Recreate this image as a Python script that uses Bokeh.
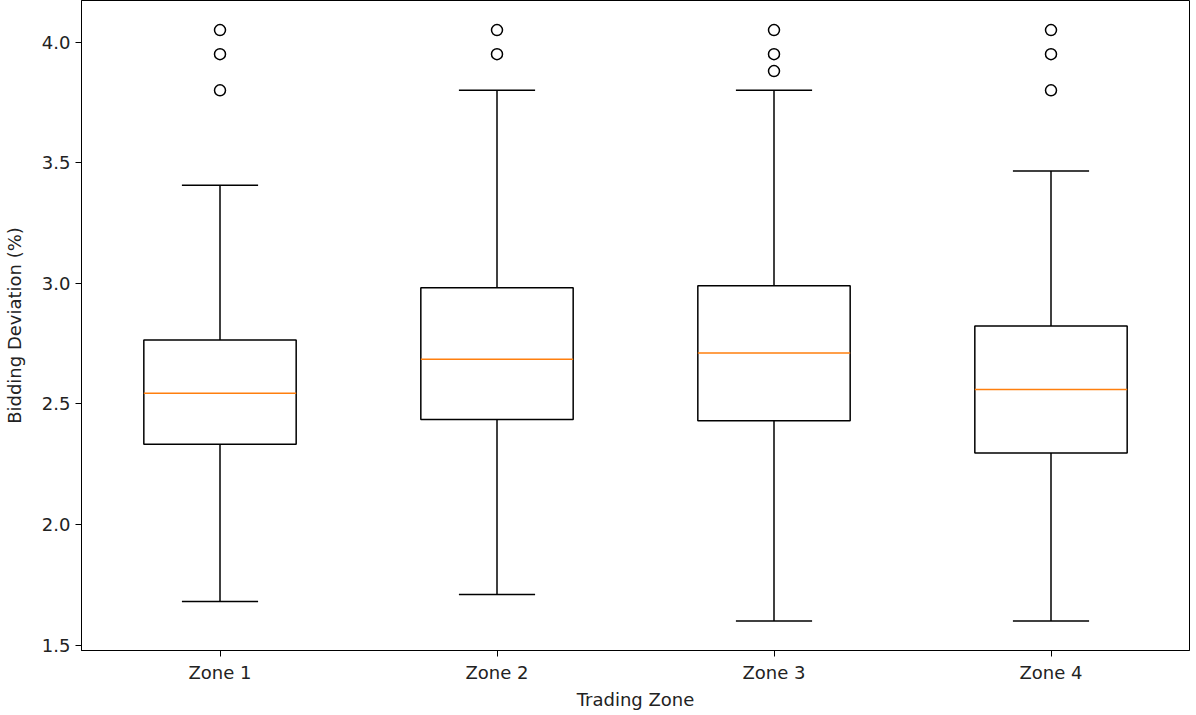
from bokeh.plotting import figure
from bokeh.models import FixedTicker, ColumnDataSource
from bokeh.embed import file_html
from bokeh.resources import INLINE

# ---- data ----
zones = ["Zone 1", "Zone 2", "Zone 3", "Zone 4"]
positions = [1, 2, 3, 4]
q1 = [2.333, 2.435, 2.430, 2.296]
median = [2.544, 2.685, 2.711, 2.560]
q3 = [2.765, 2.981, 2.990, 2.823]
whisker_low = [1.681, 1.710, 1.600, 1.600]
whisker_high = [3.407, 3.800, 3.800, 3.466]
outlier_zone = [1, 1, 1, 2, 2, 3, 3, 3, 4, 4, 4]
outlier_value = [4.05, 3.95, 3.80, 4.05, 3.95, 4.05, 3.95, 3.88, 4.05, 3.95, 3.80]
y_ticks = [1.5, 2.0, 2.5, 3.0, 3.5, 4.0]

box_w = 0.55
cap_w = box_w / 2

FONT = "DejaVu Sans"

p = figure(width=1190, height=712, x_range=(0.5, 4.5), y_range=(1.4775, 4.1725),
           output_backend="svg", toolbar_location=None,
           min_border_left=80, min_border_right=1, min_border_top=0, min_border_bottom=10)

src = ColumnDataSource(dict(
    x=positions,
    left=[x - box_w / 2 for x in positions],
    right=[x + box_w / 2 for x in positions],
    cl=[x - cap_w / 2 for x in positions],
    cr=[x + cap_w / 2 for x in positions],
    q1=q1, q3=q3, med=median, lo=whisker_low, hi=whisker_high,
))

# whiskers
p.segment(x0="x", y0="q3", x1="x", y1="hi", source=src, line_color="black", line_width=1.5)
p.segment(x0="x", y0="q1", x1="x", y1="lo", source=src, line_color="black", line_width=1.5)
# caps
p.segment(x0="cl", y0="hi", x1="cr", y1="hi", source=src, line_color="black", line_width=1.5)
p.segment(x0="cl", y0="lo", x1="cr", y1="lo", source=src, line_color="black", line_width=1.5)
# boxes
p.quad(left="left", right="right", bottom="q1", top="q3", source=src,
       fill_color="white", line_color="black", line_width=1.5)
# medians
p.segment(x0="left", y0="med", x1="right", y1="med", source=src,
          line_color="#ff7f0e", line_width=1.5)
# outliers
p.scatter(x=outlier_zone, y=outlier_value, marker="circle", size=11,
          fill_color=None, line_color="black", line_width=1.5)

# axes styling
p.xgrid.visible = False
p.ygrid.visible = False
p.outline_line_color = "black"
p.outline_line_width = 1

p.xaxis.ticker = FixedTicker(ticks=positions)
p.xaxis.major_label_overrides = {pos: z for pos, z in zip(positions, zones)}
p.yaxis.ticker = FixedTicker(ticks=y_ticks)
p.yaxis.major_label_overrides = {t: f"{t:.1f}" for t in y_ticks}

for ax in (p.xaxis[0], p.yaxis[0]):
    ax.axis_line_color = "black"
    ax.major_tick_line_color = "black"
    ax.major_tick_out = 6
    ax.major_tick_in = 0
    ax.minor_tick_line_color = None
    ax.major_label_text_font = FONT
    ax.major_label_text_font_size = "18px"
    ax.major_label_text_color = "#222222"
    ax.axis_label_text_font = FONT
    ax.axis_label_text_font_size = "18px"
    ax.axis_label_text_font_style = "normal"
    ax.axis_label_text_color = "#222222"
    ax.major_label_standoff = 5

p.xaxis.axis_label = "Trading Zone"
p.yaxis.axis_label = "Bidding Deviation (%)"
p.xaxis.axis_label_standoff = 3
p.yaxis.axis_label_standoff = 14

p.background_fill_color = "white"
p.border_fill_color = "white"

open("out.html", "w").write(file_html(p, INLINE))
